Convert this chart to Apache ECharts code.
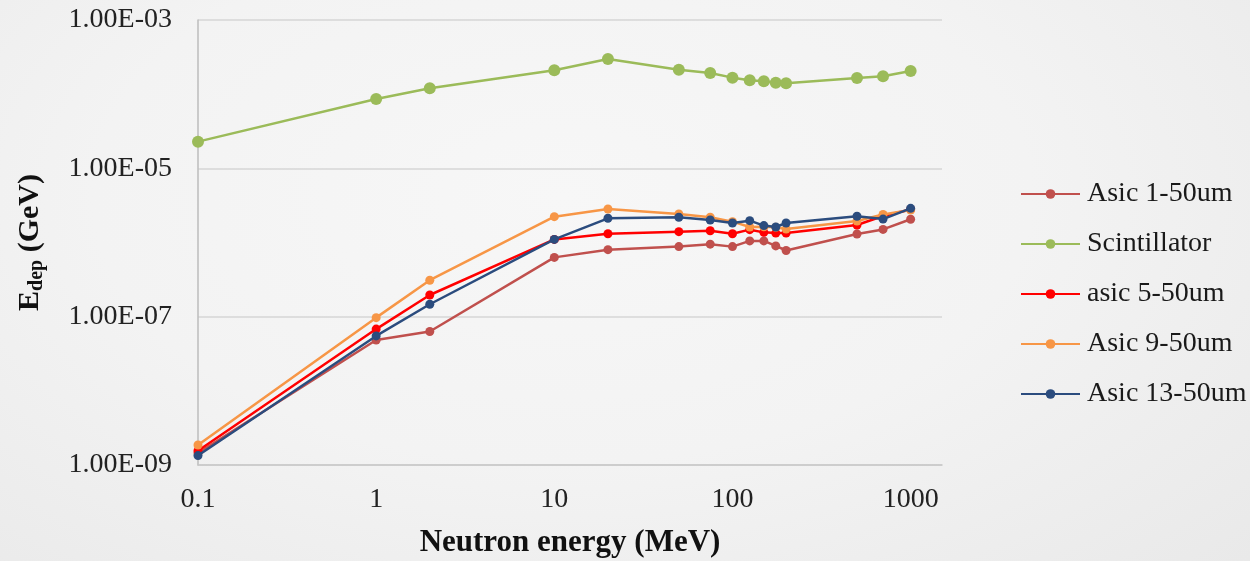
<!DOCTYPE html>
<html>
<head>
<meta charset="utf-8">
<script src="https://cdn.jsdelivr.net/npm/echarts@6/dist/echarts.min.js"></script>
<style>
  html, body { margin: 0; padding: 0; }
  body {
    width: 1250px; height: 561px; overflow: hidden;
    background: radial-gradient(ellipse 75% 95% at 45% 35%, #f7f7f7 0%, #f3f3f3 50%, #e9e9e9 100%);
  }
  #chart { width: 1250px; height: 561px; }
</style>
</head>
<body>
<div id="chart"></div>
<script>
// Neutron energy (MeV) at which each deposit was computed
const energy = [0.1, 1, 2, 10, 20, 50, 75, 100, 125, 150, 175, 200, 500, 700, 1000];

// Deposited energy (GeV) per detector
const asic1  = [1.45e-9, 4.85e-8, 6.3e-8, 6.3e-7, 8.0e-7, 8.8e-7, 9.5e-7, 8.8e-7, 1.05e-6, 1.05e-6, 9.0e-7, 7.8e-7, 1.3e-6, 1.5e-6, 2.06e-6];
const scint  = [2.29e-5, 8.6e-5, 1.2e-4, 2.1e-4, 2.98e-4, 2.14e-4, 1.93e-4, 1.67e-4, 1.54e-4, 1.49e-4, 1.43e-4, 1.40e-4, 1.65e-4, 1.74e-4, 2.05e-4];
const asic5  = [1.56e-9, 6.8e-8, 1.96e-7, 1.10e-6, 1.31e-6, 1.40e-6, 1.44e-6, 1.31e-6, 1.49e-6, 1.37e-6, 1.34e-6, 1.34e-6, 1.72e-6, 2.28e-6, 2.79e-6];
const asic9  = [1.86e-9, 9.7e-8, 3.1e-7, 2.23e-6, 2.83e-6, 2.42e-6, 2.19e-6, 1.91e-6, 1.62e-6, 1.63e-6, 1.60e-6, 1.52e-6, 1.95e-6, 2.39e-6, 2.74e-6];
const asic13 = [1.34e-9, 5.5e-8, 1.47e-7, 1.10e-6, 2.12e-6, 2.19e-6, 2.01e-6, 1.83e-6, 1.97e-6, 1.69e-6, 1.62e-6, 1.83e-6, 2.26e-6, 2.07e-6, 2.89e-6];

const seriesNames = ['Asic 1-50um', 'Scintillator', 'asic 5-50um', 'Asic 9-50um', 'Asic 13-50um'];

// Tick labels shown on each axis (one per decade on x, every second decade on y)
const xTickLabels = ['0.1', '1', '10', '100', '1000'];
const yTickLabels = ['1.00E-09', '1.00E-07', '1.00E-05', '1.00E-03'];

const X_MIN = 0.1, X_MAX = 1500, Y_MIN = 1e-9, Y_MAX = 1e-3;

const serif = '"Liberation Serif", "DejaVu Serif", serif';

function pairs(ys) {
  return energy.map((e, i) => [e, ys[i]]);
}

function decadeOf(v) {
  const e = Math.log10(v);
  const r = Math.round(e);
  return Math.abs(e - r) < 1e-6 ? r : null;
}

const styles = [
  { color: '#C0504D', size: 9,  width: 2.5 },
  { color: '#9BBB59', size: 12, width: 2.5 },
  { color: '#FF0000', size: 9,  width: 2.5 },
  { color: '#F79646', size: 9,  width: 2.5 },
  { color: '#2B4C7E', size: 9,  width: 2.5 }
];
const values = [asic1, scint, asic5, asic9, asic13];

const chart = echarts.init(document.getElementById('chart'), null, { renderer: 'canvas' });

chart.setOption({
  backgroundColor: 'transparent',
  animation: false,
  grid: { left: 198, right: 308, top: 20, bottom: 96, containLabel: false, outerBoundsMode: 'none' },
  legend: {
    orient: 'vertical',
    left: 1020,
    top: 180,
    padding: 0,
    itemWidth: 59,
    itemHeight: 12,
    itemGap: 22,
    data: seriesNames,
    textStyle: { fontFamily: serif, fontSize: 28, color: '#1a1a1a', lineHeight: 28, padding: [0, 0, 0, 2] }
  },
  xAxis: {
    type: 'log',
    logBase: 10,
    min: X_MIN,
    max: X_MAX,
    name: 'Neutron energy (MeV)',
    nameLocation: 'middle',
    nameGap: 62,
    nameTextStyle: { fontFamily: serif, fontSize: 31, fontWeight: 'bold', color: '#111' },
    axisLine: { show: true, lineStyle: { color: '#c6c6c6', width: 1.5 } },
    axisTick: { show: false },
    splitLine: { show: false },
    axisLabel: {
      margin: 21,
      fontFamily: serif, fontSize: 28, color: '#222',
      formatter: function (v) {
        const d = decadeOf(v);
        return d === null ? '' : (xTickLabels[d + 1] || '');
      }
    }
  },
  yAxis: {
    type: 'log',
    logBase: 10,
    min: Y_MIN,
    max: Y_MAX,
    name: '{e|E}{sub|dep}{e| (GeV)}',
    nameLocation: 'middle',
    nameRotate: 90,
    nameGap: 151,
    nameTextStyle: {
      rich: {
        e:   { fontFamily: serif, fontSize: 30, fontWeight: 'bold', color: '#111', lineHeight: 34, verticalAlign: 'middle' },
        sub: { fontFamily: serif, fontSize: 20, fontWeight: 'bold', color: '#111', lineHeight: 12, verticalAlign: 'bottom' }
      }
    },
    axisLine: { show: true, lineStyle: { color: '#bdbdbd', width: 1.5 } },
    axisTick: { show: false },
    // one decade per tick; only every second gridline is drawn
    splitLine: { show: true, lineStyle: { color: ['#d6d6d6', 'rgba(0,0,0,0)'], width: 1.5 } },
    axisLabel: {
      margin: 26,
      fontFamily: serif, fontSize: 28, color: '#222',
      formatter: function (v) {
        const d = decadeOf(v);
        if (d === null) return '';
        const idx = (d + 9) / 2;
        return Number.isInteger(idx) ? (yTickLabels[idx] || '') : '';
      }
    }
  },
  series: seriesNames.map((name, i) => ({
    name: name,
    type: 'line',
    data: pairs(values[i]),
    symbol: 'circle',
    symbolSize: styles[i].size,
    showSymbol: true,
    lineStyle: { color: styles[i].color, width: styles[i].width },
    itemStyle: { color: styles[i].color },
    z: 2 + i
  }))
});
</script>
</body>
</html>
